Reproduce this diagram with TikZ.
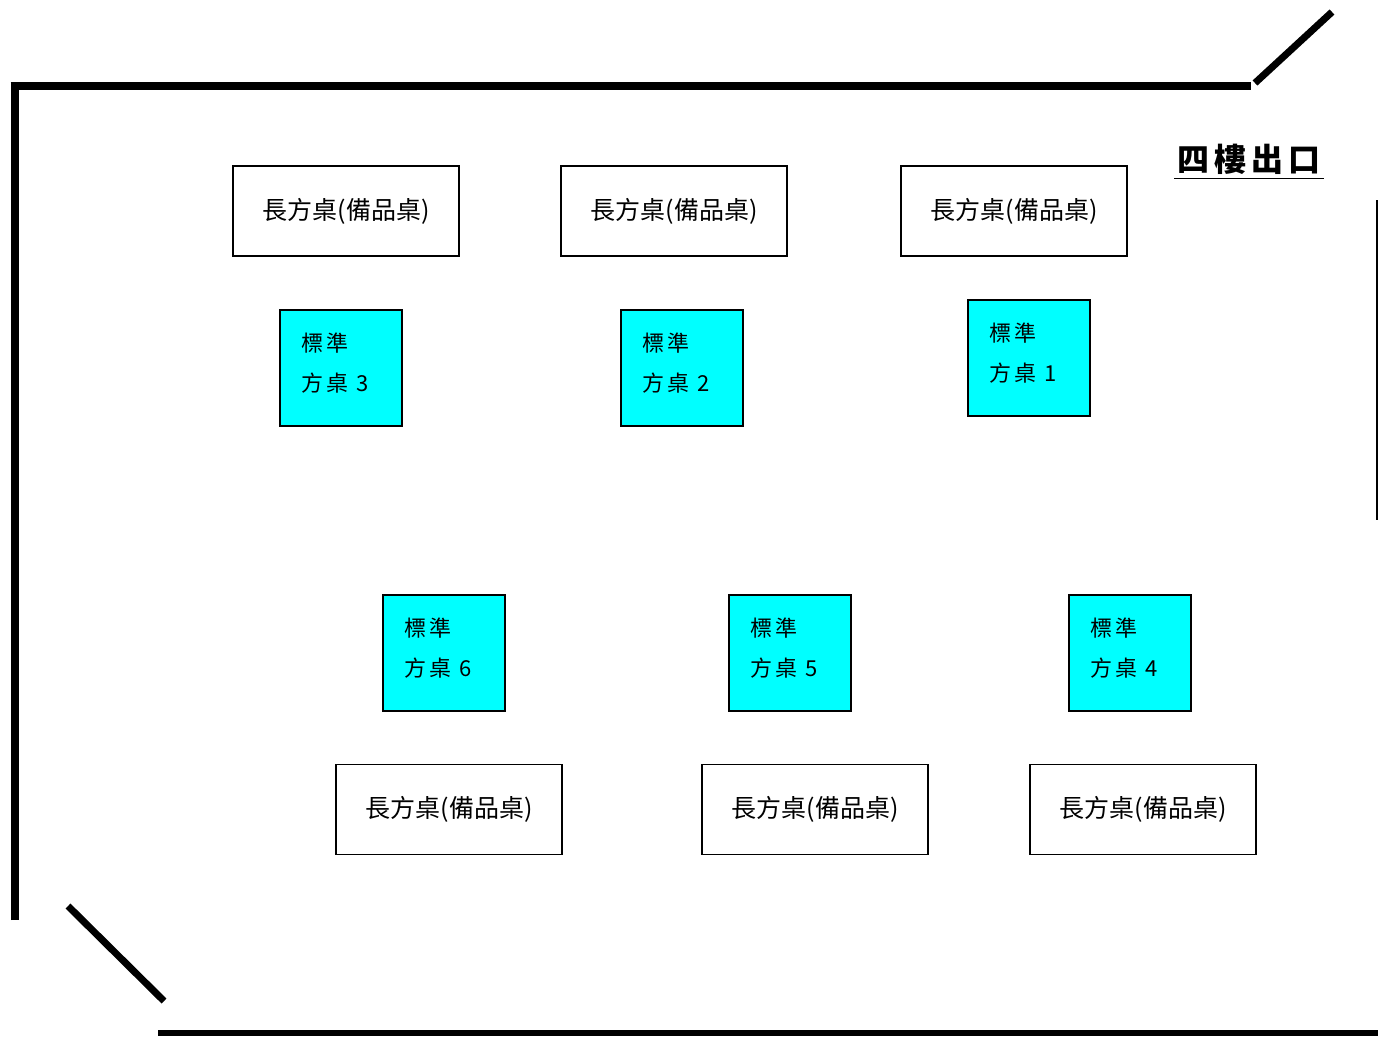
\documentclass[tikz,border=0pt]{standalone}
\usepackage{fontspec}
\newfontfamily\cjk{Noto Sans CJK TC}
\definecolor{aqua}{RGB}{0,255,255}
\begin{document}
\begin{tikzpicture}[x=1pt,y=-1pt,
  wall/.style={line width=8pt},
  diag/.style={line width=7pt},
  longtable/.style={draw, line width=1.5pt, minimum width=226pt, minimum height=90pt, inner sep=0pt, font=\cjk\fontsize{25}{25}\selectfont},
  sqtable/.style={draw, line width=1.5pt, fill=aqua, minimum width=122pt, minimum height=116pt, inner sep=0pt},
  sqtext/.style={anchor=west, font=\cjk\fontsize{22}{22}\selectfont, inner sep=0pt}
]
\useasboundingbox (0,0) rectangle (1378,1036);
% walls
\coordinate (tr) at (1251,86);
\coordinate (bl) at (14.5,920);
\draw[wall] (bl) -- (14.5,82) (10.5,86) -- (tr);
\draw[diag] (1255,83) -- (1332,12);
\draw[diag] (68,906) -- (164,1001);
\draw[line width=6pt] (158,1033) -- (1378,1033);
\draw[line width=2pt] (1376.5,200) -- (1376.5,520);
% exit label
\node[font=\cjk\bfseries\fontsize{32}{32}\selectfont, inner sep=0pt, anchor=south] (exit) at (1249,175) {四\hspace{5pt}樓\hspace{5pt}出\hspace{5pt}口};
\draw[line width=1.8pt] (1174,178.5) -- (1324,178.5);
% long tables
\node[longtable] (L1) at (346,211) {長方桌(備品桌)};
\node[longtable] (L2) at (674,211) {長方桌(備品桌)};
\node[longtable] (L3) at (1014,211) {長方桌(備品桌)};
\node[longtable] (L4) at (449,809.5) {長方桌(備品桌)};
\node[longtable] (L5) at (815,809.5) {長方桌(備品桌)};
\node[longtable] (L6) at (1143,809.5) {長方桌(備品桌)};
% square tables
\newcommand{\sqt}[4]{%
  \node[sqtable, anchor=north west] (#1) at (#2,#3) {};
  \node[sqtext] (#1a) at ([xshift=22pt,yshift=-34pt]#1.north west) {標\hspace{3pt}準};
  \node[sqtext] (#1b) at ([xshift=22pt,yshift=-74pt]#1.north west) {方\hspace{3pt}桌\hspace{8pt}#4};
}
\sqt{S3}{279}{309}{3}
\sqt{S2}{620}{309}{2}
\sqt{S1}{967}{299}{1}
\sqt{S6}{382}{594}{6}
\sqt{S5}{728}{594}{5}
\sqt{S4}{1068}{594}{4}
\end{tikzpicture}
\end{document}
